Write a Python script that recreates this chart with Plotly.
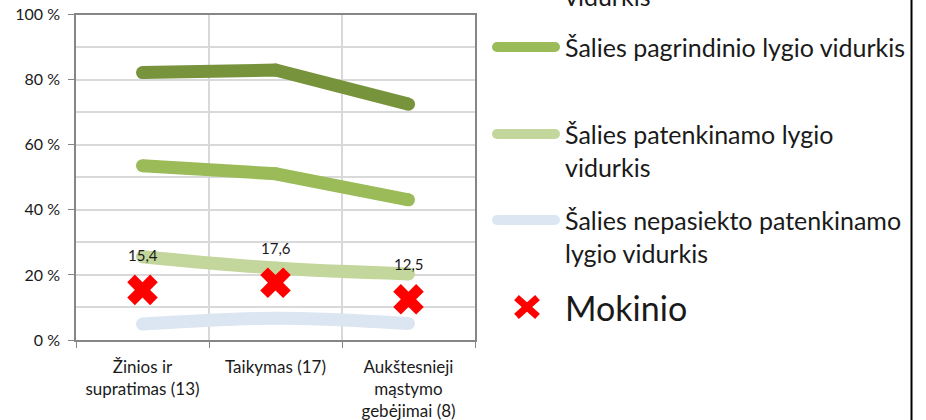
import plotly.graph_objects as go

# categories (x axis)
categories = ["Žinios ir<br>supratimas (13)", "Taikymas (17)", "Aukštesnieji<br>mąstymo<br>gebėjimai (8)"]

# national averages by level, % of max score
salies_aukstesniojo = [82.2, 83.0, 72.5]
salies_pagrindinio = [53.6, 51.1, 43.1]
salies_patenkinamo = [25.6, 22.1, 20.3]
salies_nepasiekto = [4.9, 6.7, 5.1]

# the student's result
mokinio = [15.4, 17.6, 12.5]

series_names = [
    "Šalies aukštesniojo lygio vidurkis",
    "Šalies pagrindinio lygio vidurkis",
    "Šalies patenkinamo lygio vidurkis",
    "Šalies nepasiekto patenkinamo lygio vidurkis",
    "Mokinio",
]

# how the legend labels wrap (one list per entry)
legend_lines = [
    ["Šalies aukštesniojo lygio", "vidurkis"],
    ["Šalies pagrindinio lygio vidurkis"],
    ["Šalies patenkinamo lygio", "vidurkis"],
    ["Šalies nepasiekto patenkinamo", "lygio vidurkis"],
    ["Mokinio"],
]

colors = ["#77933c", "#9bbb59", "#c3d69b", "#dce6f2", "#ff0000"]
shapes_line = ["linear", "linear", "spline", "spline"]

W, H = 926, 420
FONT = "Lato"
TXT = "#1a1a1a"


def px_x(x):
    return x / W


def px_y(y):
    return 1 - y / H


fig = go.Figure()

line_data = [salies_aukstesniojo, salies_pagrindinio, salies_patenkinamo, salies_nepasiekto]
for name, vals, col, shp in zip(series_names[:4], line_data, colors[:4], shapes_line):
    fig.add_trace(go.Scatter(
        x=categories, y=vals, name=name,
        mode="lines+markers",
        line=dict(color=col, width=13, shape=shp),
        marker=dict(color=col, size=13, line=dict(width=0)),
        showlegend=False,
    ))

fig.add_trace(go.Scatter(
    x=categories, y=mokinio, name=series_names[4],
    mode="markers",
    marker=dict(symbol="x", color=colors[4], size=27, line=dict(width=0)),
    showlegend=False,
))

# data labels above the student's markers
for c, v in zip(categories, mokinio):
    fig.add_annotation(
        x=c, y=v, text=f"{v:.1f}".replace(".", ","),
        showarrow=False, yshift=35,
        font=dict(family=FONT, size=15, color=TXT),
    )

# hand-drawn legend on the right (top entry is cut off by the crop)
legend_x0, legend_x1, text_x = 497, 555, 563
row_y = [-37, 47, 134, 220, 307]
line_gap = 33
shapes = []
for i, (lines, col) in enumerate(zip(legend_lines, colors)):
    y = row_y[i]
    if i < 4:
        shapes.append(dict(type="line", xref="paper", yref="paper",
                           x0=px_x(legend_x0), x1=px_x(legend_x1), y0=px_y(y), y1=px_y(y),
                           line=dict(color=col, width=10)))
        for cx in (legend_x0, legend_x1):
            shapes.append(dict(type="circle", xref="paper", yref="paper",
                               x0=px_x(cx - 5), x1=px_x(cx + 5), y0=px_y(y - 5), y1=px_y(y + 5),
                               fillcolor=col, line=dict(width=0)))
    else:
        cx, r = 527, 10.5
        for sgn in (1, -1):
            shapes.append(dict(type="line", xref="paper", yref="paper",
                               x0=px_x(cx - r), x1=px_x(cx + r),
                               y0=px_y(y - sgn * r * 0.9), y1=px_y(y + sgn * r * 0.9),
                               line=dict(color=col, width=7)))
    size = 34 if i == 4 else 25
    for k, t in enumerate(lines):
        fig.add_annotation(
            xref="paper", yref="paper", x=px_x(text_x), y=px_y(y + k * line_gap),
            xanchor="left", yanchor="middle", text=t, showarrow=False,
            font=dict(family=FONT, size=size, color=TXT),
        )

# frame of the chart box on the right
shapes.append(dict(type="line", xref="paper", yref="paper",
                   x0=px_x(911.5), x1=px_x(911.5), y0=0, y1=1,
                   line=dict(color="#000000", width=2)))

fig.update_layout(
    width=W, height=H, autosize=False,
    margin=dict(l=0, r=0, t=0, b=0, autoexpand=False),
    paper_bgcolor="white", plot_bgcolor="white",
    showlegend=False,
    shapes=shapes,
    font=dict(family=FONT, size=15, color=TXT),
    xaxis=dict(
        domain=[px_x(76), px_x(475)],
        type="category", range=[-0.5, 2.5], automargin=False,
        tickson="boundaries", ticks="outside", ticklen=6, tickcolor="#868686",
        showgrid=True, gridcolor="#d9d9d9", gridwidth=1.5,
        showline=True, mirror=True, linecolor="#868686", linewidth=1.5,
        tickfont=dict(family=FONT, size=17, color=TXT),
        ticklabelstandoff=11, ticklabeloverflow="allow",
    ),
    yaxis=dict(
        domain=[px_y(340), px_y(14.7)],
        range=[0, 100], dtick=20, ticksuffix=" %", automargin=False,
        ticks="outside", ticklen=6, tickcolor="#868686",
        showgrid=True, gridcolor="#d9d9d9", gridwidth=1.5,
        minor=dict(dtick=10, showgrid=True, gridcolor="#d9d9d9", gridwidth=1.5),
        showline=True, mirror=True, linecolor="#868686", linewidth=1.5,
        zeroline=False,
        tickfont=dict(family=FONT, size=16, color=TXT),
        ticklabelstandoff=5, ticklabeloverflow="allow",
    ),
)

# drop the default 8px page margin so the figure fills the window
fig.write_html("out.html", config={"displayModeBar": False},
               post_script="document.body.style.margin = '0';")
